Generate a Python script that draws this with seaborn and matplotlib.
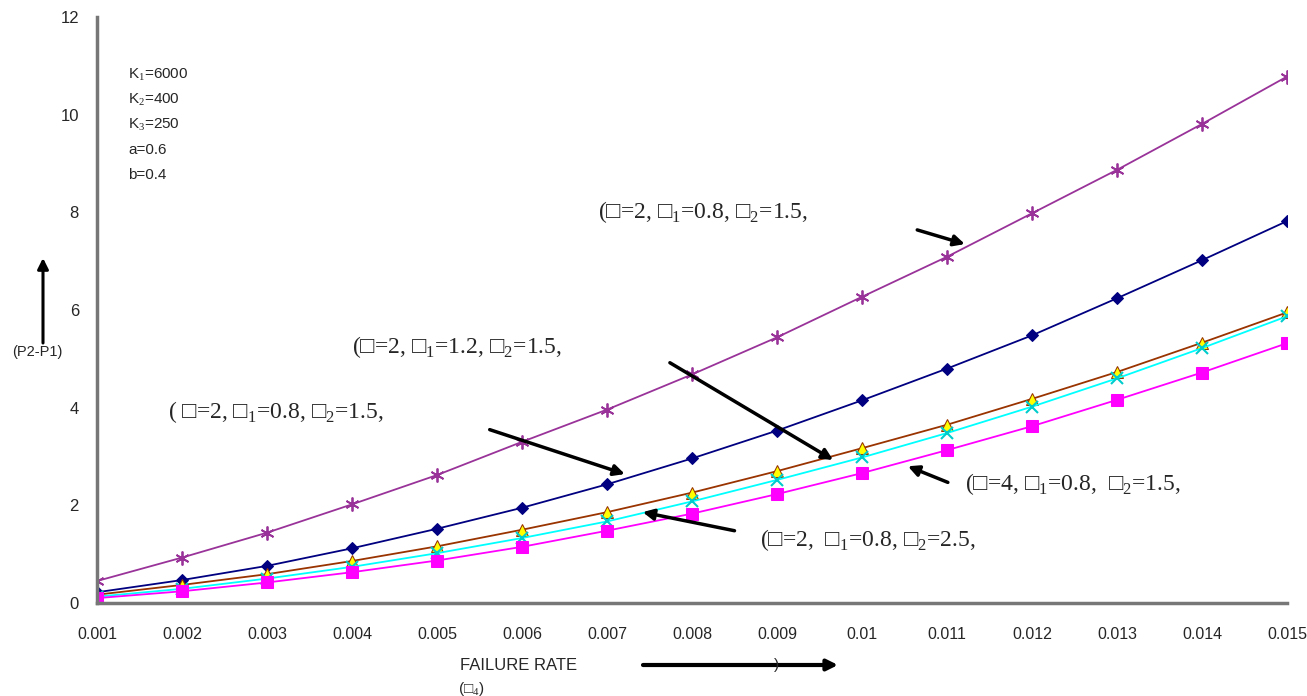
import pandas as pd
import seaborn as sns
import matplotlib.pyplot as plt

# failure rate values (x axis)
failure_rate = [0.001, 0.002, 0.003, 0.004, 0.005, 0.006, 0.007, 0.008,
                0.009, 0.010, 0.011, 0.012, 0.013, 0.014, 0.015]
x_tick_labels = ['0.001', '0.002', '0.003', '0.004', '0.005', '0.006', '0.007',
                 '0.008', '0.009', '0.01', '0.011', '0.012', '0.013', '0.014', '0.015']

# (P2-P1) for each parameter set
purple_vals = [0.45, 0.93, 1.44, 2.02, 2.62, 3.30, 3.96, 4.68, 5.44, 6.27,
               7.09, 7.98, 8.87, 9.81, 10.78]
navy_vals = [0.22, 0.47, 0.76, 1.12, 1.52, 1.95, 2.43, 2.96, 3.53, 4.15,
             4.80, 5.48, 6.24, 7.02, 7.82]
brown_vals = [0.17, 0.37, 0.59, 0.86, 1.16, 1.50, 1.86, 2.26, 2.70, 3.17,
              3.65, 4.18, 4.73, 5.33, 5.95]
cyan_vals = [0.13, 0.29, 0.50, 0.74, 1.02, 1.33, 1.67, 2.08, 2.52, 2.98,
             3.48, 4.02, 4.60, 5.22, 5.87]
magenta_vals = [0.10, 0.24, 0.42, 0.63, 0.87, 1.15, 1.48, 1.83, 2.23, 2.66,
                3.13, 3.62, 4.16, 4.72, 5.32]

series = {
    'purple': purple_vals,
    'navy': navy_vals,
    'brown': brown_vals,
    'cyan': cyan_vals,
    'magenta': magenta_vals,
}

styles = {
    'purple': dict(color='#993399', marker=(6, 2, 0), markersize=10, markeredgewidth=1.3,
                   markeredgecolor='#993399'),
    'navy': dict(color='#000080', marker='D', markersize=6, markeredgecolor='#000080'),
    'brown': dict(color='#993300', marker='^', markersize=8, markerfacecolor='#FFFF00',
                  markeredgecolor='#993300'),
    'cyan': dict(color='#00FFFF', marker='x', markersize=8, markeredgewidth=1.5,
                 markeredgecolor='#00CCCC'),
    'magenta': dict(color='#FF00FF', marker='s', markersize=8, markeredgecolor='#FF00FF'),
}

W, H = 1307, 696

sns.set_style('white')
plt.rcParams['font.family'] = ['Liberation Sans', 'DejaVu Sans']
plt.rcParams['mathtext.fontset'] = 'custom'
plt.rcParams['mathtext.rm'] = 'Liberation Serif'

fig = plt.figure(figsize=(W / 100, H / 100), dpi=100)
ax = fig.add_axes([97 / W, 1 - 603 / H, (1287 - 97) / W, (603 - 17) / H])

for name, vals in series.items():
    df = pd.DataFrame({'rate': failure_rate, 'diff': vals})
    sns.lineplot(data=df, x='rate', y='diff', ax=ax, linewidth=1.3, **styles[name])

ax.set_xlim(0.001, 0.015)
ax.set_ylim(0, 12)
ax.set_xticks(failure_rate)
ax.set_xticklabels(x_tick_labels, fontsize=11.5)
ax.set_yticks(range(0, 13, 2))
ax.set_yticklabels([str(v) for v in range(0, 13, 2)], fontsize=12)
ax.set_xlabel('')
ax.set_ylabel('')
for s in ['top', 'right']:
    ax.spines[s].set_visible(False)
for s in ['left', 'bottom']:
    ax.spines[s].set_color('#777777')
    ax.spines[s].set_linewidth(2.5)
ax.tick_params(axis='y', direction='inout', length=6, width=1.2, color='#777777', pad=10)
ax.tick_params(axis='x', direction='out', length=5, width=1.2, color='#777777', pad=12)

# parameter box
params = ['K$_1$=6000', 'K$_2$=400', 'K$_3$=250', 'a=0.6', 'b=0.4']
for i, t in enumerate(params):
    fig.text(128 / W, 1 - (75 + i * 25) / H, t, fontsize=11, va='center', ha='left')

serif = ['Liberation Serif', 'DejaVu Serif']
labels = [
    ((598, 212), '(□=2, □$_1$=0.8, □$_2$=1.5,'),
    ((352, 347), '(□=2, □$_1$=1.2, □$_2$=1.5,'),
    ((168, 412), '( □=2, □$_1$=0.8, □$_2$=1.5,'),
    ((965, 484), '(□=4, □$_1$=0.8,  □$_2$=1.5,'),
    ((760, 540), '(□=2,  □$_1$=0.8, □$_2$=2.5,'),
]
for (px, py), t in labels:
    fig.text(px / W, 1 - py / H, t, fontsize=17, family=serif, va='center', ha='left')

arrow = dict(arrowstyle='-|>', lw=2.5, color='black', mutation_scale=16,
             shrinkA=0, shrinkB=0)
# arrows pointing at curves (data coords)
arrows = [
    ((0.01065, 7.64), (0.01121, 7.35)),
    ((0.00774, 4.92), (0.00966, 2.93)),
    ((0.00562, 3.55), (0.00721, 2.64)),
    ((0.01101, 2.47), (0.01054, 2.80)),
    ((0.00850, 1.48), (0.00742, 1.86)),
]
for tail, head in arrows:
    ax.annotate('', xy=head, xytext=tail, arrowprops=arrow, annotation_clip=False)

# axis captions
fig.text(12 / W, 1 - 352 / H, '(P2-P1)', fontsize=10.5, va='center', ha='left')
ax.annotate('', xy=(43, H - 258), xytext=(43, H - 343), xycoords='figure pixels',
            textcoords='figure pixels', arrowprops=dict(arrow, lw=2.2))
fig.text(460 / W, 1 - 665 / H, 'FAILURE RATE', fontsize=12, va='center', ha='left')
fig.text(458 / W, 1 - 689 / H, '(□$_4$)', fontsize=11, va='center', ha='left')
ax.annotate('', xy=(838, H - 665), xytext=(643, H - 665), xycoords='figure pixels',
            textcoords='figure pixels', arrowprops=dict(arrow, lw=3))
fig.text(777 / W, 1 - 665 / H, ')', fontsize=11, va='center', ha='center')

fig.savefig('out.png', dpi=100)
